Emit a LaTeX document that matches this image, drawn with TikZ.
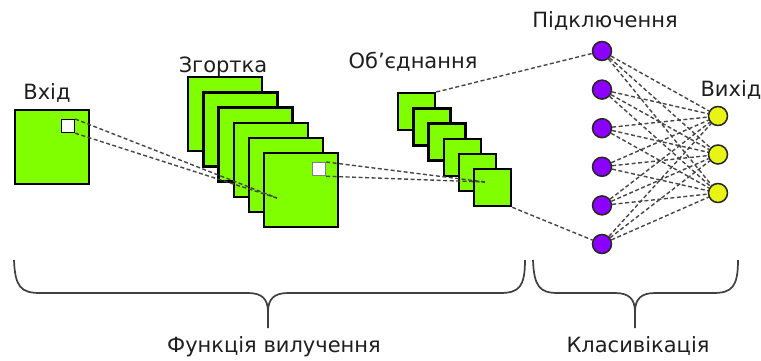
\documentclass[tikz,border=0pt]{standalone}
\usepackage{fontspec}
\setmainfont{DejaVu Sans}
\definecolor{sqgreen}{RGB}{128,255,0}
\definecolor{npurple}{RGB}{140,0,255}
\definecolor{nyellow}{RGB}{232,245,20}
\definecolor{txt}{RGB}{30,30,30}
\definecolor{dline}{RGB}{70,70,70}
\begin{document}
\begin{tikzpicture}[x=1pt,y=-1pt,
  bigsq/.style={draw=black,fill=sqgreen,line width=2.3pt,rectangle,inner sep=0pt,minimum size=74pt,anchor=north west},
  poolsq/.style={draw=black,fill=sqgreen,line width=2.3pt,rectangle,inner sep=0pt,minimum size=37pt,anchor=north west},
  winsq/.style={draw=#1,fill=white,line width=1.2pt,rectangle,inner sep=0pt,minimum size=13pt,anchor=north west},
  hid/.style={draw=black!85,fill=npurple,line width=1.5pt,circle,inner sep=0pt,minimum size=19pt},
  outn/.style={draw=black!85,fill=nyellow,line width=1.5pt,circle,inner sep=0pt,minimum size=19pt},
  conn/.style={draw=dline,line width=1.4pt,dash pattern=on 4pt off 2.5pt},
  brc/.style={draw=txt!85,line width=1.7pt},
  lbl/.style={text=txt,font=\fontsize{21}{24}\selectfont,anchor=base,inner sep=0pt}]
\useasboundingbox (0,0) rectangle (761,360);

% input
\node[bigsq] (in) at (14,109) {};
\node[winsq=black] (wi) at (61,119) {};

% convolution stack
\foreach \k in {0,...,5}{
  \node[bigsq] (c\k) at ({187+15.2*\k},{76+15.2*\k}) {};
}
\node[winsq=black!50] (wc) at (312,162) {};

% pooling stack
\foreach \k in {0,...,5}{
  \node[poolsq] (p\k) at ({397+15.2*\k},{92+15.2*\k}) {};
}

% neurons
\foreach \k in {1,...,6}{
  \node[hid] (h\k) at (602,{51+38.6*(\k-1)}) {};
}
\node[outn] (o1) at (718,116) {};
\node[outn] (o2) at (718,154.5) {};
\node[outn] (o3) at (718,193) {};

% connectors
\coordinate (t1) at (277,198);
\coordinate (t2) at (485,182);
\draw[conn] (wi.north east) -- (t1);
\draw[conn] (wi.south east) -- (t1);
\draw[conn] (wc.north east) -- (t2);
\draw[conn] (wc.south east) -- (t2);
\draw[conn] (p0.north east) -- (h1);
\draw[conn] (p5.south east) -- (h6);
\foreach \i in {1,...,6}{
  \foreach \j in {1,2,3}{
    \draw[conn] (h\i) -- (o\j);
  }
}

% labels
\node[lbl] (lin) at (47,99) {Вхід};
\node[lbl] (lconv) at (223,72) {Згортка};
\node[lbl] (lpool) at (413,68) {Об'єднання};
\node[lbl] (lfc) at (605,27) {Підключення};
\node[lbl] (lout) at (731,96) {Вихід};
\node[lbl] (lfe) at (274,352) {Функція вилучення};
\node[lbl] (lcl) at (638,352) {Класивікація};

% braces
\draw[brc] (14,260) .. controls (15,287) and (21,293) .. (40,293) -- (248,293)
  .. controls (262,293) and (268,299) .. (268,312) -- (268,328)
  (268,312) .. controls (268,299) and (274,293) .. (288,293) -- (500,293)
  .. controls (519,293) and (525,287) .. (525,260);
\draw[brc] (533,260) .. controls (534,287) and (540,293) .. (558,293) -- (615,293)
  .. controls (629,293) and (635,299) .. (635,312) -- (635,328)
  (635,312) .. controls (635,299) and (641,293) .. (655,293) -- (713,293)
  .. controls (732,293) and (738,287) .. (738,260);
\end{tikzpicture}
\end{document}
